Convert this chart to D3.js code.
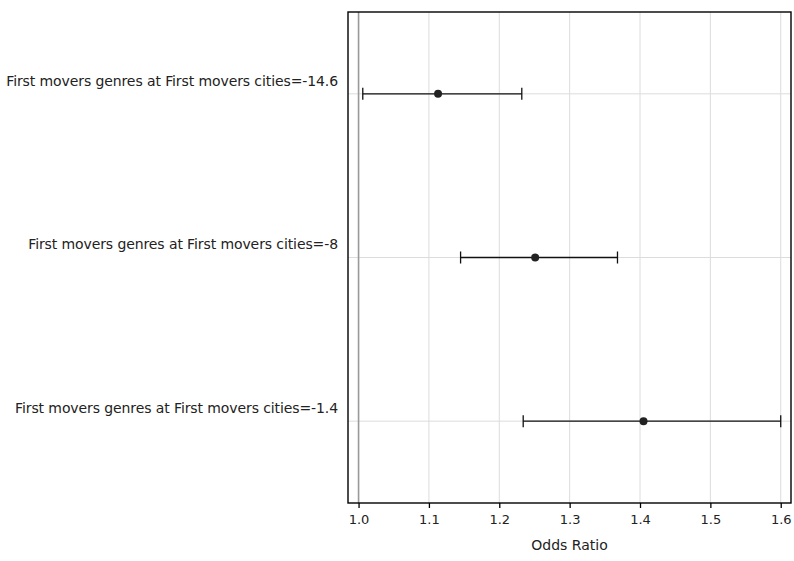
<!DOCTYPE html>
<html>
<head>
<meta charset="utf-8">
<script src="https://cdn.jsdelivr.net/npm/d3@7"></script>
<style>
  body { margin: 0; background: #fff; }
  text { font-family: "DejaVu Sans", sans-serif; fill: #222; }
</style>
</head>
<body>
<svg id="chart" width="794" height="561"></svg>
<script>
let labels = [
    "First movers genres at First movers cities=-14.6",
    "First movers genres at First movers cities=-8",
    "First movers genres at First movers cities=-1.4"
];
let oddsRatio = [1.113, 1.251, 1.405];
let lowerCI = [1.006, 1.145, 1.234];
let upperCI = [1.232, 1.368, 1.600];
let xTicks = [1.0, 1.1, 1.2, 1.3, 1.4, 1.5, 1.6];

function getChartConfig() {
    let margin = { top: 12, right: 3, bottom: 58, left: 348 },
        width = 794 - margin.left - margin.right,
        height = 561 - margin.top - margin.bottom;

    let container = d3.select("#chart")
        .append("g")
        .attr("transform", "translate(" + margin.left + "," + margin.top + ")");

    return { width, height, container, margin };
}

function getScales(config) {
    let { width, height } = config;

    let xScale = d3.scaleLinear()
        .domain([0.985, 1.6146])
        .range([0, width]);

    let yScale = d3.scalePoint()
        .domain(labels)
        .range([0, height])
        .padding(0.5);

    return { xScale, yScale };
}

function drawGrid(config, scales) {
    let { container, width, height } = config;
    let { xScale, yScale } = scales;

    xTicks.forEach(t => {
        container.append("line")
            .attr("x1", xScale(t)).attr("x2", xScale(t))
            .attr("y1", 0).attr("y2", height)
            .style("stroke", "#dcdcdc")
            .style("stroke-width", 1);
    });

    labels.forEach(l => {
        container.append("line")
            .attr("x1", 0).attr("x2", width)
            .attr("y1", yScale(l)).attr("y2", yScale(l))
            .style("stroke", "#dcdcdc")
            .style("stroke-width", 1);
    });

    // reference line at OR = 1
    container.append("line")
        .attr("x1", xScale(1)).attr("x2", xScale(1))
        .attr("y1", 0).attr("y2", height)
        .style("stroke", "#999")
        .style("stroke-width", 1.6);
}

function drawAxes(config, scales) {
    let { container, width, height } = config;
    let { xScale, yScale } = scales;

    let xAxis = d3.axisBottom(xScale)
        .tickValues(xTicks)
        .tickFormat(d3.format(".1f"))
        .tickSize(5)
        .tickPadding(7);

    let gx = container.append("g")
        .attr("transform", "translate(0," + height + ")")
        .call(xAxis);
    gx.select(".domain").remove();
    gx.selectAll(".tick line").style("stroke", "#000").style("stroke-width", 1.3);
    gx.selectAll(".tick text")
        .style("font-size", "13px")
        .style("font-family", "'DejaVu Sans', sans-serif")
        .style("fill", "#222");

    let yAxis = d3.axisLeft(yScale).tickSize(0).tickPadding(10);
    let gy = container.append("g").call(yAxis);
    gy.select(".domain").remove();
    // labels sit a bit above their row line
    gy.selectAll(".tick text")
        .attr("y", -13)
        .style("font-size", "14px")
        .style("letter-spacing", "-0.1px")
        .style("font-family", "'DejaVu Sans', sans-serif")
        .style("fill", "#222");

    // frame
    container.append("rect")
        .attr("width", width).attr("height", height)
        .style("fill", "none")
        .style("stroke", "#000")
        .style("stroke-width", 1.4);

    container.append("text")
        .attr("x", width / 2)
        .attr("y", height + 47)
        .style("text-anchor", "middle")
        .style("font-size", "14px")
        .text("Odds Ratio");
}

function drawPoints(config, scales) {
    let { container } = config;
    let { xScale, yScale } = scales;

    let rows = labels.map((l, i) => ({ label: l, or: oddsRatio[i], lo: lowerCI[i], hi: upperCI[i] }));

    let g = container.selectAll(".row")
        .data(rows)
        .enter().append("g")
        .attr("class", "row")
        .attr("transform", d => "translate(0," + yScale(d.label) + ")");

    g.append("line")
        .attr("x1", d => xScale(d.lo)).attr("x2", d => xScale(d.hi))
        .style("stroke", "#111").style("stroke-width", 1.3);

    ["lo", "hi"].forEach(k => {
        g.append("line")
            .attr("x1", d => xScale(d[k])).attr("x2", d => xScale(d[k]))
            .attr("y1", -6).attr("y2", 6)
            .style("stroke", "#111").style("stroke-width", 1.3);
    });

    g.append("circle")
        .attr("cx", d => xScale(d.or))
        .attr("r", 4)
        .style("fill", "#222");
}

function drawChart() {
    let config = getChartConfig();
    let scales = getScales(config);
    drawGrid(config, scales);
    drawPoints(config, scales);
    drawAxes(config, scales);
}

drawChart();
</script>
</body>
</html>
